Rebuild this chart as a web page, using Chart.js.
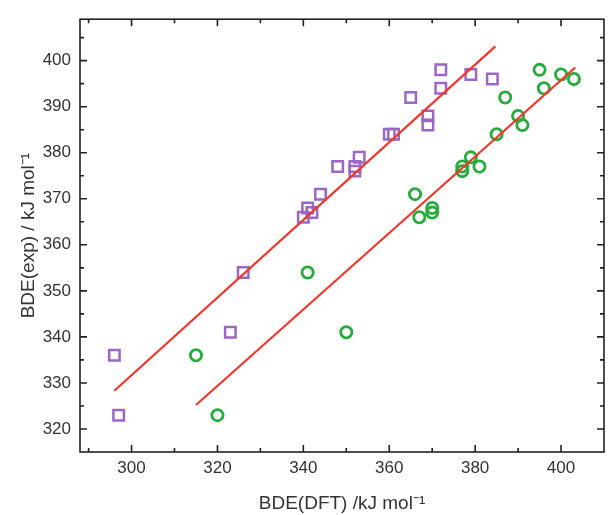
<!DOCTYPE html>
<html>
<head>
<meta charset="utf-8">
<script src="https://cdn.jsdelivr.net/npm/chart.js@4.4.1/dist/chart.umd.min.js"></script>
<style>
  html, body { margin: 0; padding: 0; background: #fff; }
  #wrap { width: 614px; height: 515px; }
</style>
</head>
<body>
<div id="wrap"><canvas id="bde_chart"></canvas></div>
<script>
"use strict";

// squares (purple)
var squareDft = [296, 297, 323, 326, 340, 341, 342, 344, 348, 352, 352, 353, 360, 361, 365, 369, 369, 372, 372, 379, 384];
var squareExp = [336, 323, 341, 354, 366, 368, 367, 371, 377, 376, 377, 379, 384, 384, 392, 388, 386, 398, 394, 397, 396];

// circles (green)
var circleDft = [315, 320, 341, 350, 366, 367, 370, 370, 377, 377, 379, 381, 385, 387, 390, 391, 395, 396, 400, 403];
var circleExp = [336, 323, 354, 341, 371, 366, 368, 367, 377, 376, 379, 377, 384, 392, 388, 386, 398, 394, 397, 396];

// fitted lines, two ends each
var squareFitX = [296, 384.7];
var squareFitY = [328.3, 403.1];
var circleFitX = [315, 403.3];
var circleFitY = [325.2, 398.5];

var xTicks = [300, 320, 340, 360, 380, 400];
var yTicks = [320, 330, 340, 350, 360, 370, 380, 390, 400];

function toPoints(xs, ys) {
  return xs.map(function (x, i) { return { x: x, y: ys[i] }; });
}

// frame with inward ticks on all four sides
var framePlugin = {
  id: 'frame',
  afterDatasetsDraw: function (chart) {
    var ctx = chart.ctx;
    var a = chart.chartArea;
    var sx = chart.scales.x;
    var sy = chart.scales.y;
    ctx.save();
    ctx.strokeStyle = '#222';
    ctx.lineWidth = 1.6;
    ctx.strokeRect(a.left, a.top, a.right - a.left, a.bottom - a.top);
    ctx.beginPath();
    for (var v = 290; v <= 410; v += 10) {
      var px = sx.getPixelForValue(v);
      if (px < a.left + 1 || px > a.right - 1) continue;
      var len = (v % 20 === 0) ? 7 : 4;
      ctx.moveTo(px, a.bottom); ctx.lineTo(px, a.bottom - len);
      ctx.moveTo(px, a.top); ctx.lineTo(px, a.top + len);
    }
    for (var w = 315; w <= 410; w += 5) {
      var py = sy.getPixelForValue(w);
      if (py < a.top + 1 || py > a.bottom - 1) continue;
      var l2 = (w % 10 === 0) ? 7 : 4;
      ctx.moveTo(a.left, py); ctx.lineTo(a.left + l2, py);
      ctx.moveTo(a.right, py); ctx.lineTo(a.right - l2, py);
    }
    ctx.stroke();
    ctx.restore();
  }
};

var ctx = document.getElementById('bde_chart');

new Chart(ctx, {
  type: 'scatter',
  data: {
    datasets: [
      {
        label: 'fit 1',
        data: toPoints(squareFitX, squareFitY),
        showLine: true,
        borderColor: '#f5342a',
        borderWidth: 2.2,
        pointRadius: 0
      },
      {
        label: 'fit 2',
        data: toPoints(circleFitX, circleFitY),
        showLine: true,
        borderColor: '#f5342a',
        borderWidth: 2.2,
        pointRadius: 0
      },
      {
        label: 'squares',
        data: toPoints(squareDft, squareExp),
        pointStyle: 'rect',
        pointRadius: 7.4,
        pointBorderWidth: 2.5,
        pointBackgroundColor: 'rgba(0,0,0,0)',
        pointBorderColor: '#9b67c4'
      },
      {
        label: 'circles',
        data: toPoints(circleDft, circleExp),
        pointStyle: 'circle',
        pointRadius: 5.6,
        pointBorderWidth: 2.8,
        pointBackgroundColor: 'rgba(0,0,0,0)',
        pointBorderColor: '#25ad3c'
      }
    ]
  },
  options: {
    responsive: true,
    maintainAspectRatio: false,
    animation: false,
    layout: {
      padding: { top: 17, right: 10, left: 0, bottom: 0 }
    },
    scales: {
      x: {
        min: 288,
        max: 410,
        grid: { display: false, drawTicks: false },
        border: { display: false },
        afterBuildTicks: function (scale) {
          scale.ticks = xTicks.map(function (v) { return { value: v }; });
        },
        afterFit: function (scale) {
          scale.height = 63;
        },
        ticks: {
          padding: 6,
          color: '#333',
          font: { family: 'Liberation Sans', size: 17 },
          maxRotation: 0
        },
        title: {
          display: true,
          text: 'BDE(DFT) /kJ mol⁻¹',
          color: '#333',
          font: { family: 'Liberation Sans', size: 19 },
          padding: { top: 11, bottom: 0 }
        }
      },
      y: {
        min: 315,
        max: 409,
        grid: { display: false, drawTicks: false },
        border: { display: false },
        afterBuildTicks: function (scale) {
          scale.ticks = yTicks.map(function (v) { return { value: v }; });
        },
        afterFit: function (scale) {
          scale.width = 80;
        },
        ticks: {
          padding: 9,
          color: '#333',
          font: { family: 'Liberation Sans', size: 17 }
        },
        title: {
          display: true,
          text: 'BDE(exp) / kJ mol⁻¹',
          color: '#333',
          font: { family: 'Liberation Sans', size: 19 },
          padding: { top: 17, bottom: 0 }
        }
      }
    },
    plugins: {
      legend: { display: false },
      tooltip: { enabled: false }
    }
  },
  plugins: [framePlugin]
});
</script>
</body>
</html>
